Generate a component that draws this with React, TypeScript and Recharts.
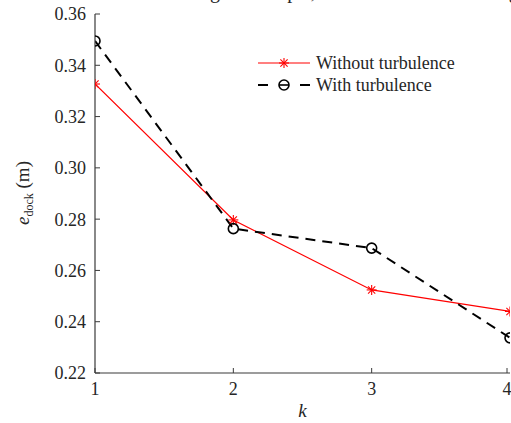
import React from "react";
import { LineChart, Line, XAxis, YAxis, Label } from "recharts";

const kValues = [1, 2, 3, 4];
const withoutTurbulence = [0.3327, 0.2797, 0.2524, 0.2440];
const withTurbulence = [0.3495, 0.2763, 0.2687, 0.2337];
const yTicks = [0.22, 0.24, 0.26, 0.28, 0.3, 0.32, 0.34, 0.36];
const xTicks = [1, 2, 3, 4];
const seriesNames = ["Without turbulence", "With turbulence"];
const topText = "the rate of the docking attempts, as shown in Fig.";

const data = kValues.map((k, i) => ({
  k,
  without: withoutTurbulence[i],
  with: withTurbulence[i],
}));

const FONT = "'Liberation Serif', 'Times New Roman', serif";
const AXIS = "#3a3a3a";
const TXT = "#262626";
const TICK_LEN = 5;

const Star = (props: any) => {
  const { cx, cy } = props;
  if (cx == null || cy == null) return null;
  const r = 5;
  const d = r * 0.72;
  return (
    <g stroke="#ff0000" strokeWidth={1.1}>
      <line x1={cx - r} y1={cy} x2={cx + r} y2={cy} />
      <line x1={cx} y1={cy - r} x2={cx} y2={cy + r} />
      <line x1={cx - d} y1={cy - d} x2={cx + d} y2={cy + d} />
      <line x1={cx - d} y1={cy + d} x2={cx + d} y2={cy - d} />
    </g>
  );
};

const Circ = (props: any) => {
  const { cx, cy } = props;
  if (cx == null || cy == null) return null;
  return <circle cx={cx} cy={cy} r={5} fill="none" stroke="#000" strokeWidth={1.6} />;
};

const LeftTick = (props: any) => {
  const { x, y, payload } = props;
  const ax = x + 9;
  return (
    <g>
      <line x1={ax} y1={y} x2={ax + TICK_LEN} y2={y} stroke={AXIS} strokeWidth={1} />
      <text x={x} y={y} dy="0.36em" textAnchor="end" fontFamily={FONT} fontSize={18} fill={TXT}>
        {payload.value.toFixed(2)}
      </text>
    </g>
  );
};

const RightTick = (props: any) => {
  const { x, y } = props;
  return <line x1={x} y1={y} x2={x - TICK_LEN} y2={y} stroke={AXIS} strokeWidth={1} />;
};

const BottomTick = (props: any) => {
  const { x, y, payload } = props;
  const ay = y - 9;
  return (
    <g>
      <line x1={x} y1={ay} x2={x} y2={ay - TICK_LEN} stroke={AXIS} strokeWidth={1} />
      <text x={x} y={y} dy="0.71em" textAnchor="middle" fontFamily={FONT} fontSize={18} fill={TXT}>
        {payload.value}
      </text>
    </g>
  );
};

const TopTick = (props: any) => {
  const { x, y } = props;
  return <line x1={x} y1={y} x2={x} y2={y + TICK_LEN} stroke={AXIS} strokeWidth={1} />;
};

const LegendBox = () => (
  <svg width={230} height={50} style={{ position: "absolute", left: 255, top: 51, overflow: "visible" }}>
    <g>
      <line x1={3} y1={12} x2={55} y2={12} stroke="#ff0000" strokeWidth={1.2} />
      <Star cx={29} cy={12} />
      <text x={61} y={12} dy="0.34em" fontFamily={FONT} fontSize={18} fill={TXT}>
        {seriesNames[0]}
      </text>
    </g>
    <g>
      <line x1={3} y1={34} x2={13} y2={34} stroke="#000" strokeWidth={2} />
      <line x1={45} y1={34} x2={55} y2={34} stroke="#000" strokeWidth={2} />
      <Circ cx={29} cy={34} />
      <line x1={24} y1={34} x2={34} y2={34} stroke="#000" strokeWidth={1.6} />
      <text x={61} y={34} dy="0.34em" fontFamily={FONT} fontSize={18} fill={TXT}>
        {seriesNames[1]}
      </text>
    </g>
  </svg>
);

const YLabel = () => {
  const cx = 22;
  const cy = 193;
  return (
    <text
      x={cx}
      y={cy}
      transform={`rotate(-90, ${cx}, ${cy})`}
      textAnchor="middle"
      dy="0.35em"
      fontFamily={FONT}
      fontSize={19}
      fill={TXT}
    >
      <tspan fontStyle="italic">e</tspan>
      <tspan fontSize={12} dy={4}>dock</tspan>
      <tspan dy={-4}> (m)</tspan>
    </text>
  );
};

export default function App() {
  return (
    <div style={{ position: "absolute", left: 0, top: 0, width: 511, height: 423, background: "#fff", overflow: "hidden" }}>
      <div
        style={{
          position: "absolute",
          left: -32,
          top: -21,
          fontFamily: FONT,
          fontSize: 20,
          wordSpacing: 18,
          whiteSpace: "nowrap",
          color: TXT,
          lineHeight: "24px",
        }}
      >
        {topText}
      </div>
      <LineChart width={511} height={423} data={data} margin={{ top: 14, right: 1, bottom: 0, left: 0 }}>
        <XAxis
          xAxisId="b"
          dataKey="k"
          type="number"
          domain={[1, 4]}
          ticks={xTicks}
          tickSize={0}
          tickMargin={9}
          tick={<BottomTick />}
          axisLine={{ stroke: AXIS, strokeWidth: 1.2 }}
          height={50}
          allowDataOverflow
        >
          <Label
            value="k"
            position="insideBottom"
            offset={6}
            style={{ fontFamily: FONT, fontSize: 19, fontStyle: "italic", fill: TXT }}
          />
        </XAxis>
        <XAxis
          xAxisId="t"
          orientation="top"
          dataKey="k"
          type="number"
          domain={[1, 4]}
          ticks={xTicks}
          tickSize={0}
          tickMargin={0}
          tick={<TopTick />}
          axisLine={{ stroke: AXIS, strokeWidth: 1.2 }}
          height={0}
        />
        <YAxis
          yAxisId="l"
          type="number"
          domain={[0.22, 0.36]}
          ticks={yTicks}
          tickSize={0}
          tickMargin={9}
          tick={<LeftTick />}
          axisLine={{ stroke: AXIS, strokeWidth: 1.2 }}
          width={95}
          allowDataOverflow
        >
          <Label content={<YLabel />} />
        </YAxis>
        <YAxis
          yAxisId="r"
          orientation="right"
          type="number"
          domain={[0.22, 0.36]}
          ticks={yTicks}
          tickSize={0}
          tickMargin={0}
          tick={<RightTick />}
          axisLine={{ stroke: AXIS, strokeWidth: 1.2 }}
          width={0}
        />
        <Line
          xAxisId="b"
          yAxisId="l"
          dataKey="without"
          stroke="#ff0000"
          strokeWidth={1.2}
          dot={<Star />}
          activeDot={false}
          isAnimationActive={false}
        />
        <Line
          xAxisId="b"
          yAxisId="l"
          dataKey="with"
          stroke="#000"
          strokeWidth={2}
          strokeDasharray="10 7"
          dot={<Circ />}
          activeDot={false}
          isAnimationActive={false}
        />
      </LineChart>
      <LegendBox />
    </div>
  );
}
